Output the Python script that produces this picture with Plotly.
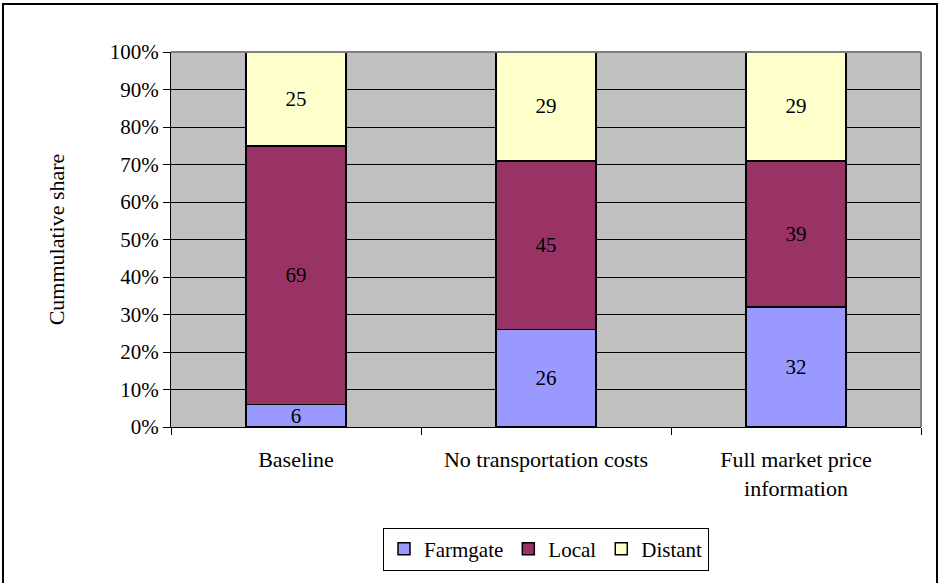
import plotly.graph_objects as go

categories = ["Baseline", "No transportation costs", "Full market price<br>information"]
farmgate = [6, 26, 32]
local = [69, 45, 39]
distant = [25, 29, 29]
series_names = ["Farmgate", "Local", "Distant"]
series_colors = ["#9999FF", "#993366", "#FFFFCC"]
y_ticks = list(range(0, 101, 10))
y_ticklabels = [f"{t}%" for t in y_ticks]

FONT = "'Liberation Serif', 'Times New Roman', serif"

fig = go.Figure()
for name, vals, col in zip(series_names, [farmgate, local, distant], series_colors):
    fig.add_trace(go.Bar(
        x=categories, y=vals, name=name,
        marker=dict(color=col, line=dict(color="black", width=1.5)),
        text=vals, texttemplate="%{text}", textposition="inside",
        insidetextanchor="middle", textangle=0,
        textfont=dict(color="black", size=21, family=FONT),
        cliponaxis=False,
    ))

W, H = 939, 583
L, R, T, B = 171, 18, 52, 156
pw, ph = W - L - R, H - T - B

def px_x(p):
    return (p - L) / pw

def px_y(p):
    return (H - B - p) / ph

fig.update_layout(
    width=W, height=H,
    margin=dict(l=L, r=R, t=T, b=B),
    barmode="stack", bargap=0.6,
    plot_bgcolor="#C0C0C0", paper_bgcolor="white",
    font=dict(family=FONT, size=21, color="black"),
    uniformtext=dict(mode="show", minsize=21),
    showlegend=True,
    legend=dict(orientation="h", x=0.5, xanchor="center", y=px_y(549), yanchor="middle",
                bordercolor="black", borderwidth=1, bgcolor="white",
                font=dict(family=FONT, size=21), itemwidth=30, traceorder="normal"),
    shapes=[
        dict(type="rect", xref="paper", yref="paper",
             x0=px_x(3), x1=px_x(937), y0=px_y(600), y1=px_y(4),
             line=dict(color="black", width=2), layer="below"),
        dict(type="line", xref="paper", yref="paper", x0=0, x1=1, y0=1, y1=1,
             line=dict(color="#808080", width=2)),
        dict(type="line", xref="paper", yref="paper", x0=1, x1=1, y0=0, y1=1,
             line=dict(color="#808080", width=2)),
    ],
)
fig.update_xaxes(
    showgrid=False, showline=True, linecolor="black", linewidth=1,
    ticks="outside", tickson="boundaries", ticklen=7, tickcolor="black",
    ticklabelstandoff=13, tickfont=dict(family=FONT, size=22),
)
fig.update_yaxes(
    range=[0, 100], tickvals=y_ticks, ticktext=y_ticklabels,
    showgrid=True, gridcolor="black", gridwidth=1,
    showline=True, linecolor="black", linewidth=1,
    ticks="outside", ticklen=7, tickcolor="black",
    tickfont=dict(family=FONT, size=21), zeroline=False,
    title=dict(text="Cummulative share", font=dict(family=FONT, size=22), standoff=39),
)

fig.write_html("out.html")
